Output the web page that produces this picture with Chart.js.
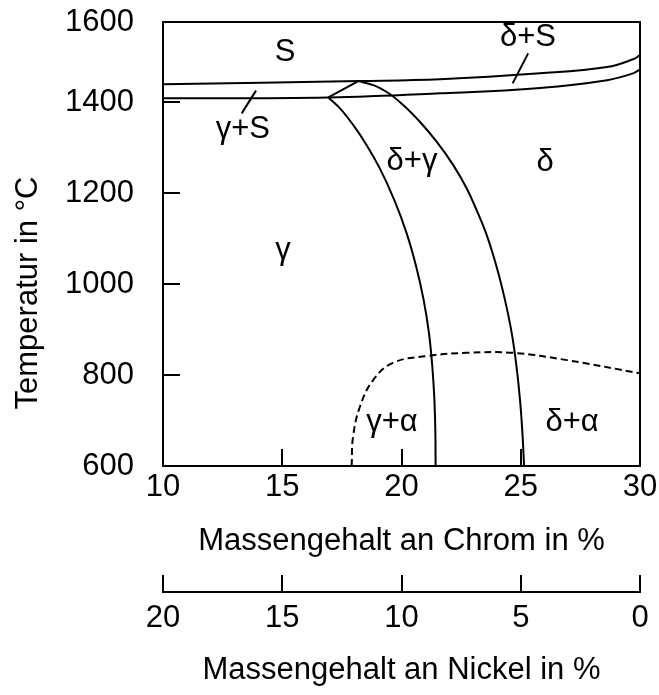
<!DOCTYPE html>
<html>
<head>
<meta charset="utf-8">
<script src="https://cdn.jsdelivr.net/npm/chart.js@4/dist/chart.umd.min.js"></script>
<style>
  html, body { margin: 0; padding: 0; background: #fff; }
</style>
</head>
<body>
<canvas id="phaseChart" width="659" height="695"></canvas>
<script>
// Cr-Ni phase diagram (Cr in %, T in °C)
const liquidusCr = [10, 18.26, 21.61, 25.81, 28.62, 29.71, 30];
const liquidusT = [1440, 1447, 1451, 1464, 1478, 1495, 1504];

const solidusCr = [10, 16.93, 21.61, 25.81, 28.62, 29.71, 30];
const solidusT = [1409, 1411, 1420, 1432, 1449, 1464, 1473];

const peritecticCr = [16.93, 18.19];
const peritecticT = [1411, 1447];

const gammaLimitCr = [16.93, 17.42, 17.98, 18.54, 19.08, 19.70, 20.21, 20.62, 20.93, 21.15, 21.29, 21.38, 21.42, 21.43];
const gammaLimitT = [1411, 1387, 1350, 1306, 1256, 1185, 1113, 1038, 965, 893, 820, 745, 673, 600];

const deltaLimitCr = [18.19, 18.82, 19.38, 20.08, 20.78, 21.48, 22.17, 22.73, 23.15, 23.54, 23.99, 24.34, 24.62, 24.82, 24.97, 25.07, 25.14];
const deltaLimitT = [1447, 1438, 1423, 1394, 1357, 1313, 1262, 1211, 1163, 1113, 1038, 965, 893, 820, 745, 673, 600];

const alphaLimitCr = [17.91, 17.97, 18.26, 18.81, 19.64, 21.06, 22.73, 24.68, 26.93, 30];
const alphaLimitT = [600, 665, 731, 789, 827, 842, 849, 849, 833, 804];

// leader lines for the narrow two-phase bands
const leaderDeltaCr = [24.66, 25.31];
const leaderDeltaT = [1442, 1508];
const leaderGammaCr = [13.30, 13.90];
const leaderGammaT = [1376, 1426];

const regionNames = ['S', 'δ+S', 'γ+S', 'δ+γ', 'δ', 'γ', 'γ+α', 'δ+α'];
const regionCr = [15.12, 25.30, 13.35, 20.44, 26.02, 15.03, 19.60, 27.15];
const regionT = [1511, 1544, 1341, 1270, 1267, 1075, 695, 695];

const crTicks = [10, 15, 20, 25, 30];
const niTicks = [20, 15, 10, 5, 0];
const tempTicks = [600, 800, 1000, 1200, 1400, 1600];
const tempMax = 1577; // frame top sits a bit below the 1600 label

const FONT = { family: "'Liberation Sans', Arial, sans-serif", size: 31 };

const curve = (xs, ys, extra) => Object.assign({
  data: xs.map((x, i) => ({ x: x, y: ys[i] })),
  borderColor: '#000',
  borderWidth: 2,
  pointRadius: 0,
  showLine: true,
  fill: false,
  tension: 0.4
}, extra || {});

// the steep phase limits are smoothest as Cr = f(T)
const steep = { indexAxis: 'y', cubicInterpolationMode: 'monotone' };

// region names, frame and y title
const annotations = {
  id: 'annotations',
  afterDraw(chart) {
    const { ctx, chartArea } = chart;
    const xs = chart.scales.x;
    const ys = chart.scales.y;
    ctx.save();
    ctx.strokeStyle = '#000';
    ctx.lineWidth = 2;
    ctx.strokeRect(chartArea.left, chartArea.top, chartArea.right - chartArea.left, chartArea.bottom - chartArea.top);

    ctx.fillStyle = '#000';
    ctx.font = FONT.size + 'px ' + FONT.family;
    ctx.textAlign = 'center';
    ctx.textBaseline = 'middle';
    regionNames.forEach((name, i) => {
      ctx.fillText(name, xs.getPixelForValue(regionCr[i]), ys.getPixelForValue(regionT[i]));
    });

    ctx.translate(chartArea.left - 135, (chartArea.top + chartArea.bottom) / 2 + 49);
    ctx.rotate(-Math.PI / 2);
    ctx.fillText('Temperatur in °C', 0, 0);
    ctx.restore();
  }
};

const axisGrid = { drawOnChartArea: false, tickLength: -17, color: '#000', lineWidth: 2 };
const axisBorder = { color: '#000', width: 2 };

const fixHeight = h => s => { s.height = h; s.paddingLeft = 0; s.paddingRight = 0; s.paddingTop = 0; s.paddingBottom = 0; };

new Chart(document.getElementById('phaseChart'), {
  type: 'scatter',
  data: {
    datasets: [
      curve(liquidusCr, liquidusT),
      curve(solidusCr, solidusT),
      curve(peritecticCr, peritecticT, { tension: 0 }),
      curve(gammaLimitCr, gammaLimitT, steep),
      curve(deltaLimitCr, deltaLimitT, steep),
      curve(alphaLimitCr, alphaLimitT, { borderDash: [7, 4] }),
      curve(leaderDeltaCr, leaderDeltaT, { tension: 0 }),
      curve(leaderGammaCr, leaderGammaT, { tension: 0 })
    ]
  },
  options: {
    responsive: false,
    animation: false,
    devicePixelRatio: 1,
    layout: { padding: { top: 22, right: 19, bottom: 0, left: 0 } },
    plugins: { legend: { display: false }, tooltip: { enabled: false } },
    scales: {
      x: {
        type: 'linear',
        position: 'bottom',
        min: 10,
        max: 30,
        afterBuildTicks: s => { s.ticks = crTicks.map(v => ({ value: v })); },
        ticks: { font: FONT, color: '#000', padding: 20, maxRotation: 0 },
        grid: axisGrid,
        border: axisBorder,
        title: {
          display: true,
          text: 'Massengehalt an Chrom in %',
          font: FONT,
          color: '#000',
          padding: { top: 0, bottom: 32 }
        },
        afterFit: fixHeight(126)
      },
      x2: {
        type: 'linear',
        position: 'bottom',
        min: 0,
        max: 20,
        reverse: true,
        afterBuildTicks: s => { s.ticks = niTicks.map(v => ({ value: v })); },
        ticks: { font: FONT, color: '#000', padding: 25, maxRotation: 0 },
        grid: axisGrid,
        border: axisBorder,
        title: {
          display: true,
          text: 'Massengehalt an Nickel in %',
          font: FONT,
          color: '#000',
          padding: { top: 0, bottom: 6 }
        },
        afterFit: fixHeight(103)
      },
      y: {
        type: 'linear',
        position: 'left',
        min: 600,
        max: tempMax,
        afterBuildTicks: s => { s.ticks = tempTicks.map(v => ({ value: Math.min(v, tempMax) })); },
        ticks: {
          font: FONT,
          color: '#000',
          padding: 46,
          callback: (value, index) => tempTicks[index]
        },
        grid: axisGrid,
        border: axisBorder,
        afterFit: s => { s.width = 163; s.paddingTop = 0; s.paddingBottom = 0; }
      }
    }
  },
  plugins: [annotations]
});
</script>
</body>
</html>
